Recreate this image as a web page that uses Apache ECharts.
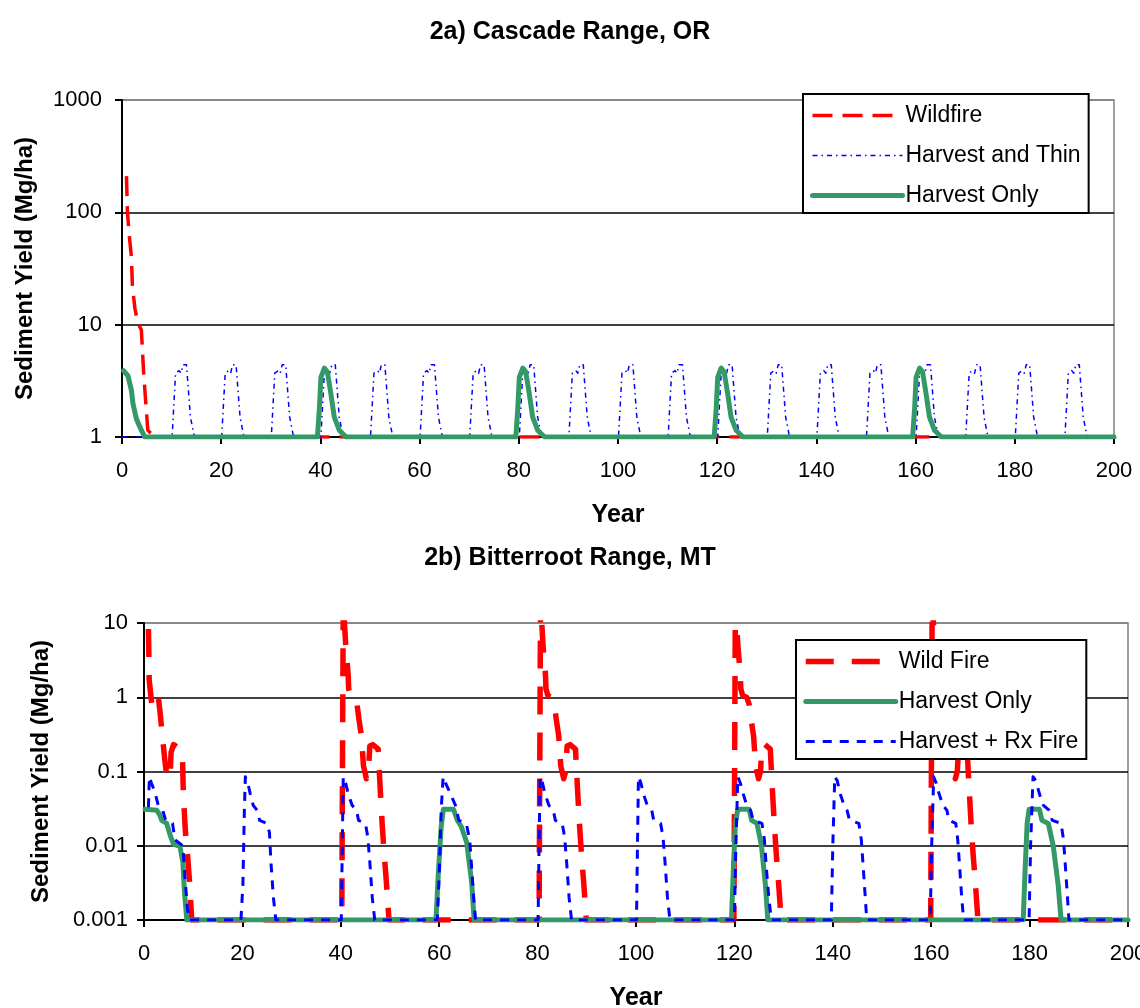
<!DOCTYPE html>
<html>
<head>
<meta charset="utf-8">
<script src="https://cdn.jsdelivr.net/npm/echarts@6/dist/echarts.min.js"></script>
<style>
html,body{margin:0;padding:0;background:#fff;}
#chart{width:1140px;height:1008px;}
</style>
</head>
<body>
<div id="chart"></div>
<script>
// ---------- Data: 2a) Cascade Range, OR ----------
const titleOR = '2a) Cascade Range, OR';
const yTicksOR = ['1', '10', '100', '1000'];
const namesOR = ['Wildfire', 'Harvest and Thin', 'Harvest Only'];
const wildfireOR = [[0.9,210],[1.1,100],[1.5,60],[1.9,40],[2.1,22],[2.6,14],[3.2,10.3],[3.9,9],[4.4,3.5],[5.2,1.15],[6.2,1.03],[7,1],[200,1]];
const harvestThinOR = [[0,1],
 [10.1,1],[10.8,3.7],[11.5,3.9],[11.9,3.7],[12.3,4.4],[13.0,4.4],[13.8,1.5],[14.5,1.05],[15,1],
 [20.1,1],[20.8,3.7],[21.5,3.9],[21.9,3.7],[22.3,4.4],[23.0,4.4],[23.8,1.5],[24.5,1.05],[25,1],
 [30.1,1],[30.8,3.7],[31.5,3.9],[31.9,3.7],[32.3,4.4],[33.0,4.4],[33.8,1.5],[34.5,1.05],[35,1],
 [40.1,1],[40.8,3.7],[41.5,3.9],[41.9,3.7],[42.3,4.4],[43.0,4.4],[43.8,1.5],[44.5,1.05],[45,1],
 [50.1,1],[50.8,3.7],[51.5,3.9],[51.9,3.7],[52.3,4.4],[53.0,4.4],[53.8,1.5],[54.5,1.05],[55,1],
 [60.1,1],[60.8,3.7],[61.5,3.9],[61.9,3.7],[62.3,4.4],[63.0,4.4],[63.8,1.5],[64.5,1.05],[65,1],
 [70.1,1],[70.8,3.7],[71.5,3.9],[71.9,3.7],[72.3,4.4],[73.0,4.4],[73.8,1.5],[74.5,1.05],[75,1],
 [80.1,1],[80.8,3.7],[81.5,3.9],[81.9,3.7],[82.3,4.4],[83.0,4.4],[83.8,1.5],[84.5,1.05],[85,1],
 [90.1,1],[90.8,3.7],[91.5,3.9],[91.9,3.7],[92.3,4.4],[93.0,4.4],[93.8,1.5],[94.5,1.05],[95,1],
 [100.1,1],[100.8,3.7],[101.5,3.9],[101.9,3.7],[102.3,4.4],[103.0,4.4],[103.8,1.5],[104.5,1.05],[105,1],
 [110.1,1],[110.8,3.7],[111.5,3.9],[111.9,3.7],[112.3,4.4],[113.0,4.4],[113.8,1.5],[114.5,1.05],[115,1],
 [120.1,1],[120.8,3.7],[121.5,3.9],[121.9,3.7],[122.3,4.4],[123.0,4.4],[123.8,1.5],[124.5,1.05],[125,1],
 [130.1,1],[130.8,3.7],[131.5,3.9],[131.9,3.7],[132.3,4.4],[133.0,4.4],[133.8,1.5],[134.5,1.05],[135,1],
 [140.1,1],[140.8,3.7],[141.5,3.9],[141.9,3.7],[142.3,4.4],[143.0,4.4],[143.8,1.5],[144.5,1.05],[145,1],
 [150.1,1],[150.8,3.7],[151.5,3.9],[151.9,3.7],[152.3,4.4],[153.0,4.4],[153.8,1.5],[154.5,1.05],[155,1],
 [160.1,1],[160.8,3.7],[161.5,3.9],[161.9,3.7],[162.3,4.4],[163.0,4.4],[163.8,1.5],[164.5,1.05],[165,1],
 [170.1,1],[170.8,3.7],[171.5,3.9],[171.9,3.7],[172.3,4.4],[173.0,4.4],[173.8,1.5],[174.5,1.05],[175,1],
 [180.1,1],[180.8,3.7],[181.5,3.9],[181.9,3.7],[182.3,4.4],[183.0,4.4],[183.8,1.5],[184.5,1.05],[185,1],
 [190.1,1],[190.8,3.7],[191.5,3.9],[191.9,3.7],[192.3,4.4],[193.0,4.4],[193.8,1.5],[194.5,1.05],[195,1],
 [200,1]];
const harvestOnlyOR = [
 [0.3,3.9],[0.7,3.85],[1.2,3.5],[1.9,2.6],[2.2,2.0],[2.9,1.45],[3.9,1.15],[4.6,1],
 [39.4,1],[39.8,1.8],[40.1,3.4],[40.8,4.1],[41.4,3.8],[42.1,2.45],[42.8,1.5],[43.8,1.15],[45.2,1],
 [79.4,1],[79.8,1.8],[80.1,3.4],[80.8,4.1],[81.4,3.8],[82.1,2.45],[82.8,1.5],[83.8,1.15],[85.2,1],
 [119.4,1],[119.8,1.8],[120.1,3.4],[120.8,4.1],[121.4,3.8],[122.1,2.45],[122.8,1.5],[123.8,1.15],[125.2,1],
 [159.4,1],[159.8,1.8],[160.1,3.4],[160.8,4.1],[161.4,3.8],[162.1,2.45],[162.8,1.5],[163.8,1.15],[165.2,1],
 [200,1]];

// ---------- Data: 2b) Bitterroot Range, MT ----------
const titleMT = '2b) Bitterroot Range, MT';
const yTicksMT = ['0.001', '0.01', '0.1', '1', '10'];
const namesMT = ['Wild Fire', 'Harvest Only', 'Harvest + Rx Fire'];
const wildFireMT = [
 [0.9,8.3],[1.0,3.3],[1.05,1.75],[1.3,1.2],[1.6,0.8],[1.9,1.0],[2.5,1.1],[3.0,0.9],[3.3,0.6],[3.6,0.37],[4.2,0.15],[4.6,0.09],[5.3,0.08],[5.5,0.18],[6.0,0.23],[7.0,0.21],[7.8,0.18],[8.0,0.05],[8.4,0.016],[8.7,0.01],[9.3,0.003],[9.7,0.001],
 [40.2,0.001],[40.5,20],[41.0,5],[41.5,2],[41.6,1.3],[42.0,1.05],[42.8,1.0],[43.3,0.8],[43.7,0.5],[44.2,0.3],[44.6,0.12],[45.2,0.08],[45.6,0.1],[45.9,0.22],[46.5,0.23],[47.6,0.2],[48.0,0.06],[48.4,0.02],[48.8,0.008],[49.3,0.003],[49.8,0.001],
 [80.3,0.001],[80.6,20],[81.1,5],[81.6,2],[81.7,1.3],[82.1,1.05],[82.9,1.0],[83.4,0.8],[83.8,0.5],[84.3,0.3],[84.7,0.12],[85.3,0.08],[85.7,0.1],[86.0,0.22],[86.6,0.23],[87.7,0.2],[88.1,0.06],[88.5,0.02],[88.9,0.008],[89.4,0.003],[89.9,0.001],
 [119.9,0.001],[120.2,20],[120.7,5],[121.2,2],[121.3,1.3],[121.7,1.05],[122.5,1.0],[123.0,0.8],[123.4,0.5],[123.9,0.3],[124.3,0.12],[124.9,0.08],[125.3,0.1],[125.6,0.22],[126.2,0.23],[127.3,0.2],[127.7,0.06],[128.1,0.02],[128.5,0.008],[129.0,0.003],[129.5,0.001],
 [159.9,0.001],[160.2,20],[160.7,5],[161.2,2],[161.3,1.3],[161.7,1.05],[162.5,1.0],[163.0,0.8],[163.4,0.5],[163.9,0.3],[164.3,0.12],[164.9,0.08],[165.3,0.1],[165.6,0.22],[166.2,0.23],[167.3,0.2],[167.7,0.06],[168.1,0.02],[168.5,0.008],[169.0,0.003],[169.5,0.001],
 [200,0.001]];
const harvestOnlyMT = [
 [0.2,0.031],[2.6,0.03],[3.2,0.026],[3.6,0.022],[4.6,0.02],[5.3,0.014],[6.0,0.0105],[7.3,0.0098],[7.9,0.006],[8.2,0.0025],[8.7,0.001],
 [59.35,0.001],[59.8,0.004],[60.4,0.018],[60.85,0.031],[62.9,0.031],[63.7,0.022],[64.5,0.018],[65.6,0.011],[66.6,0.0032],[67.1,0.001],
 [119.4,0.001],[119.8,0.005],[120.2,0.02],[120.7,0.031],[123.0,0.031],[123.5,0.022],[124.6,0.02],[125.5,0.01],[126.3,0.003],[126.8,0.001],
 [178.7,0.001],[179.1,0.005],[179.5,0.02],[179.9,0.031],[182.0,0.031],[182.5,0.022],[183.8,0.02],[184.8,0.01],[185.8,0.003],[186.4,0.001],
 [200,0.001]];
const harvestRxMT = [
 [0.9,0.033],[1.1,0.085],[1.5,0.07],[1.9,0.06],[2.3,0.05],[2.9,0.035],[3.8,0.03],[4.4,0.022],[5.8,0.02],[6.3,0.012],[7.9,0.01],[8.3,0.004],[8.8,0.0015],[9.2,0.001],
 [19.7,0.001],[20.1,0.003],[20.4,0.03],[20.6,0.085],[21.1,0.07],[21.6,0.05],[22.2,0.035],[23.0,0.03],[23.5,0.022],[25.0,0.02],[25.5,0.015],[25.8,0.006],[26.3,0.002],[26.8,0.001],
 [40.1,0.001],[40.3,0.01],[40.5,0.085],[41.0,0.07],[41.5,0.05],[42.3,0.035],[43.2,0.03],[43.6,0.022],[45.0,0.02],[45.5,0.013],[45.9,0.006],[46.4,0.002],[46.9,0.001],
 [59.6,0.001],[60.0,0.004],[60.4,0.03],[60.8,0.085],[61.5,0.065],[62.3,0.05],[63.3,0.035],[64.0,0.022],[65.5,0.02],[66.2,0.012],[66.6,0.005],[67.0,0.002],[67.4,0.001],
 [80.1,0.001],[80.3,0.01],[80.5,0.085],[81.0,0.07],[81.5,0.05],[82.3,0.035],[83.2,0.03],[83.6,0.022],[85.0,0.02],[85.5,0.013],[85.9,0.006],[86.4,0.002],[86.9,0.001],
 [100.1,0.001],[100.3,0.01],[100.5,0.085],[101.0,0.07],[101.5,0.05],[102.3,0.035],[103.2,0.03],[103.6,0.022],[105.0,0.02],[105.5,0.013],[105.9,0.006],[106.4,0.002],[106.9,0.001],
 [120.0,0.001],[120.3,0.01],[120.7,0.085],[121.2,0.07],[121.8,0.05],[122.5,0.035],[123.3,0.03],[123.8,0.022],[125.6,0.02],[126.1,0.012],[126.5,0.005],[127.0,0.002],[127.5,0.001],
 [139.7,0.001],[140.0,0.01],[140.4,0.085],[140.9,0.075],[141.5,0.05],[142.3,0.035],[142.9,0.03],[143.4,0.022],[145.3,0.02],[145.8,0.012],[146.2,0.005],[146.6,0.002],[146.9,0.001],
 [159.8,0.001],[160.1,0.01],[160.5,0.085],[161.0,0.07],[161.6,0.05],[162.4,0.035],[163.2,0.03],[163.6,0.022],[165.0,0.02],[165.4,0.012],[165.8,0.005],[166.2,0.002],[166.6,0.001],
 [179.9,0.001],[180.2,0.01],[180.7,0.085],[181.3,0.075],[182.0,0.05],[182.8,0.035],[184.0,0.03],[184.6,0.022],[186.4,0.02],[186.9,0.012],[187.3,0.005],[187.7,0.002],[188.0,0.001],
 [200,0.001]];

const xAxisName = 'Year';
const yAxisName = 'Sediment Yield (Mg/ha)';

// ---------- Styling / options ----------
const FONT = '"Liberation Sans", Arial, Helvetica, sans-serif';
const RED = '#FF0000', BLUE = '#0000FF', GREEN = '#339966';

function xAxisCfg(gi, gap) {
  return {
    type: 'value', gridIndex: gi, min: 0, max: 200, interval: 20,
    name: xAxisName, nameLocation: 'middle', nameGap: gap,
    nameTextStyle: {fontFamily: FONT, fontSize: 25, fontWeight: 'bold', color: '#000'},
    axisLine: {show: true, onZero: false, lineStyle: {color: '#000', width: 2}},
    axisTick: {show: true, length: 7, lineStyle: {color: '#000', width: 2}},
    axisLabel: {fontFamily: FONT, fontSize: 22, color: '#000', margin: 23},
    splitLine: {show: false}
  };
}
function yAxisCfg(gi, mn, mx, ticks, nameGap, labelMargin) {
  const colors = ticks.map((t, i) => i === ticks.length - 1 ? '#808080' : '#000');
  return {
    type: 'log', logBase: 10, gridIndex: gi, min: mn, max: mx,
    name: yAxisName, nameLocation: 'middle', nameGap: nameGap, nameRotate: 90,
    nameTextStyle: {fontFamily: FONT, fontSize: 24, fontWeight: 'bold', color: '#000'},
    axisLine: {show: true, onZero: false, lineStyle: {color: '#000', width: 2}},
    axisTick: {show: true, length: 7, lineStyle: {color: '#000', width: 2}},
    axisLabel: {fontFamily: FONT, fontSize: 22, color: '#000', margin: labelMargin,
      formatter: v => ticks[Math.round(Math.log10(v) - Math.log10(mn))]},
    splitLine: {show: true, lineStyle: {color: colors, width: 1.5}}
  };
}
function legendCfg(left, top, names) {
  return {
    show: true, orient: 'vertical', left: left, top: top, data: names,
    selectedMode: false,
    itemWidth: 90, itemHeight: 14, itemGap: 17,
    padding: [10, 8, 6, 7],
    borderColor: '#000', borderWidth: 2, backgroundColor: '#fff',
    itemStyle: {opacity: 0},
    lineStyle: {width: 'inherit', type: 'inherit', color: 'inherit'},
    textStyle: {fontFamily: FONT, fontSize: 23, color: '#000', padding: [0, 0, 0, -2]}
  };
}
function line(name, data, xi, color, width, type, z) {
  return {
    name: name, type: 'line', xAxisIndex: xi, yAxisIndex: xi, data: data,
    symbol: 'none', showSymbol: false, clip: true, z: z,
    lineStyle: {color: color, width: width, type: type, cap: type === 'solid' ? 'round' : 'butt', join: 'round'},
    itemStyle: {color: color}
  };
}

const chart = echarts.init(document.getElementById('chart'), null, {renderer: 'canvas'});
chart.setOption({
  animation: false,
  backgroundColor: '#fff',
  title: [
    {text: titleOR, left: 'center', top: 15, textStyle: {fontFamily: FONT, fontSize: 25, fontWeight: 'bold', color: '#000'}},
    {text: titleMT, left: 'center', top: 541, textStyle: {fontFamily: FONT, fontSize: 25, fontWeight: 'bold', color: '#000'}}
  ],
  grid: [
    {left: 122, top: 100, width: 992, height: 337, outerBoundsMode: 'none', containLabel: false, show: true, borderColor: '#808080', borderWidth: 1.5, backgroundColor: 'transparent'},
    {left: 144, top: 623, width: 984, height: 297, outerBoundsMode: 'none', containLabel: false, show: true, borderColor: '#808080', borderWidth: 1.5, backgroundColor: 'transparent'}
  ],
  xAxis: [xAxisCfg(0, 66), xAxisCfg(1, 66)],
  yAxis: [yAxisCfg(0, 1, 1000, yTicksOR, 85, 20), yAxisCfg(1, 0.001, 10, yTicksMT, 91, 16)],
  legend: [legendCfg(803, 94, namesOR), legendCfg(796, 640, namesMT)],
  series: [
    line(namesOR[0], wildfireOR, 0, RED, 3.5, [20, 10], 2),
    line(namesOR[1], harvestThinOR, 0, BLUE, 1.5, [5, 4, 1.5, 4], 3),
    line(namesOR[2], harvestOnlyOR, 0, GREEN, 5, 'solid', 4),
    line(namesMT[0], wildFireMT, 1, RED, 5.5, [28, 18], 2),
    line(namesMT[1], harvestOnlyMT, 1, GREEN, 5, 'solid', 3),
    line(namesMT[2], harvestRxMT, 1, BLUE, 3, [9, 8], 4)
  ]
});
</script>
</body>
</html>
